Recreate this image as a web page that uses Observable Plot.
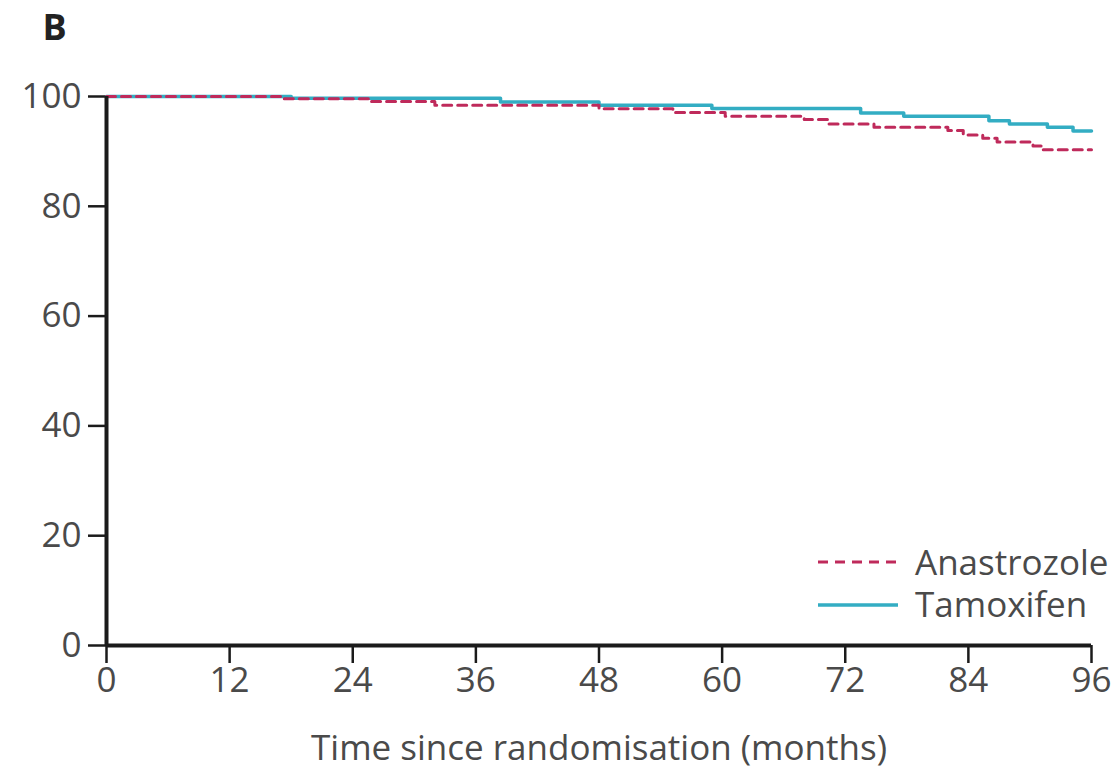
<!DOCTYPE html>
<html>
<head>
<meta charset="utf-8">
<script src="https://cdn.jsdelivr.net/npm/d3@7"></script>
<script src="https://cdn.jsdelivr.net/npm/@observablehq/plot@0.6"></script>
<style>
  html, body { margin: 0; padding: 0; background: #fff; }
  #wrap { position: relative; width: 1119px; height: 769px; font-family: "Open Sans", sans-serif; }
  #legend { position: absolute; left: 818px; top: 540px; width: 301px; height: 90px; }
  #legend svg { position: absolute; left: 0; top: 0; }
  #legend .lab { position: absolute; left: 97px; font-size: 35px; line-height: 1; color: #4a4a4a; white-space: nowrap; }
</style>
</head>
<body>
<div id="wrap"><div id="legend"></div></div>
<script>
// ---- data ----
const panelLabel = "B";
const xLabel = "Time since randomisation (months)";
const xTicks = [0, 12, 24, 36, 48, 60, 72, 84, 96];
const yTicks = [0, 20, 40, 60, 80, 100];
const seriesNames = ["Anastrozole", "Tamoxifen"];
const seriesColors = ["#bf2a5b", "#33adc3"];

const anastrozoleMonths = [0, 17, 25.7, 32, 48, 55.2, 60.3, 68, 70.3, 74.8, 82, 83.5, 85.4, 86.8, 90.3, 91.3, 96];
const anastrozoleValues = [100, 99.6, 99.1, 98.4, 97.75, 97.1, 96.4, 95.8, 95.0, 94.4, 93.8, 93.0, 92.4, 91.7, 91.0, 90.3, 90.3];

const tamoxifenMonths = [0, 18, 38.4, 48, 59, 73.5, 77.7, 86, 88, 91.7, 94.2, 96];
const tamoxifenValues = [100, 99.7, 99.0, 98.4, 97.8, 97.0, 96.4, 95.6, 95.0, 94.4, 93.7, 93.7];

// ---- build tables ----
const anastrozole = anastrozoleMonths.map((m, i) => ({month: m, value: anastrozoleValues[i]}));
const tamoxifen = tamoxifenMonths.map((m, i) => ({month: m, value: tamoxifenValues[i]}));

const textColor = "#4a4a4a";
const axisColor = "#1b1b1b";

const chart = Plot.plot({
  width: 1119,
  height: 769,
  marginLeft: 106,
  marginRight: 28,
  marginTop: 96,
  marginBottom: 124,
  style: { fontFamily: "'Open Sans', sans-serif", fontSize: "35px", background: "#fff", overflow: "visible" },
  x: { domain: [0, 96] },
  y: { domain: [0, 100] },
  marks: [
    Plot.axisY({ ticks: yTicks, tickSize: 18, tickPadding: 7, label: null, stroke: axisColor, strokeWidth: 2.5, fill: textColor, fontSize: 35 }),
    Plot.axisX({ ticks: xTicks, tickSize: 18, tickPadding: 4, label: null, stroke: axisColor, strokeWidth: 2.5, fill: textColor, fontSize: 35 }),
    Plot.line(tamoxifen, { x: "month", y: "value", curve: "step-after", stroke: seriesColors[1], strokeWidth: 3.5 }),
    Plot.line(anastrozole, { x: "month", y: "value", curve: "step-after", stroke: seriesColors[0], strokeWidth: 3, strokeDasharray: "9,6" }),
    Plot.ruleX([0], { stroke: axisColor, strokeWidth: 4 }),
    Plot.ruleY([0], { stroke: axisColor, strokeWidth: 4, x1: 0, x2: 96 }),
    Plot.text([xLabel], { frameAnchor: "bottom", lineAnchor: "top", dy: 90, fill: textColor, fontSize: 35 }),
    Plot.text([panelLabel], { frameAnchor: "top-left", textAnchor: "start", lineAnchor: "top", dx: -64, dy: -82, fill: "#222", fontSize: 36, fontWeight: "bold" })
  ]
});
document.getElementById("wrap").prepend(chart);

// ---- legend ----
const legend = d3.select("#legend");
const sw = legend.append("svg").attr("width", 90).attr("height", 90);
sw.append("line").attr("x1", 0).attr("x2", 84).attr("y1", 22).attr("y2", 22)
  .attr("stroke", seriesColors[0]).attr("stroke-width", 3).attr("stroke-dasharray", "10,7");
sw.append("line").attr("x1", 0).attr("x2", 80).attr("y1", 65).attr("y2", 65)
  .attr("stroke", seriesColors[1]).attr("stroke-width", 3.5);
legend.append("div").attr("class", "lab").style("top", "4px").text(seriesNames[0]);
legend.append("div").attr("class", "lab").style("top", "46px").text(seriesNames[1]);
</script>
</body>
</html>
